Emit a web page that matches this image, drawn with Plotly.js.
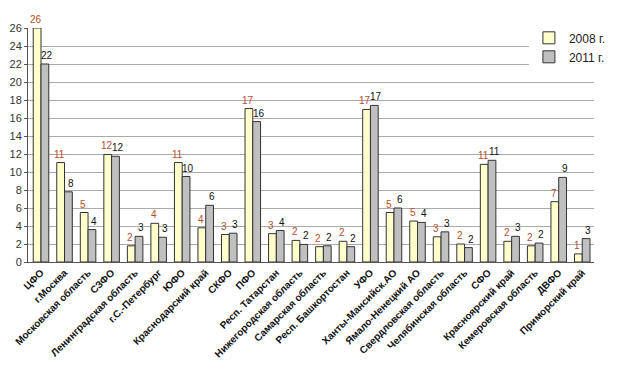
<!DOCTYPE html>
<html><head><meta charset="utf-8">
<script src="https://cdn.plot.ly/plotly-3.0.1.min.js"></script>
<style>html,body{margin:0;padding:0;background:#fff;}#chart{width:623px;height:379px;}</style>
</head><body><div id="chart"></div>
<script>
const categories = ["ЦФО","г.Москва","Московская область","СЗФО","Ленинградская область","г.С.-Петербург","ЮФО","Краснодарский край","СКФО","ПФО","Респ. Татарстан","Нижегородская область","Самарская область","Респ. Башкортостан","УФО","Ханты-Мансийск.АО","Ямало-Ненецкий АО","Свердловская область","Челябинская область","СФО","Красноярский край","Кемеровская область","ДВФО","Приморский край"];
const values2008 = [26,11.05,5.5,11.95,1.8,4.3,11.05,3.8,3.05,17.05,3.15,2.4,1.7,2.3,16.95,5.5,4.55,2.8,2.0,10.85,2.3,1.8,6.7,0.9];
const values2011 = [22,7.8,3.6,11.75,2.85,2.75,9.5,6.3,3.2,15.6,3.5,1.95,1.8,1.7,17.4,6.0,4.4,3.35,1.6,11.3,2.85,2.1,9.4,2.6];
const labels2008 = ["26","11","5","12","2","4","11","4","3","17","3","2","2","2","17","5","5","3","2","11","2","2","7","1"];
const labels2011 = ["22","8","4","12","3","3","10","6","3","16","4","2","2","2","17","6","4","3","2","11","3","2","9","3"];
const seriesNames = ["2008 г.","2011 г."];

const traces = [
  {type:'bar', name:seriesNames[0], x:categories, y:values2008,
   marker:{color:'#FFFFCC', line:{color:'#333', width:1}}},
  {type:'bar', name:seriesNames[1], x:categories, y:values2011,
   marker:{color:'#C0C0C0', line:{color:'#333', width:1}}}
];
const annotations = [];
categories.forEach((c,i)=>{
  annotations.push({x:c, y:values2008[i], text:labels2008[i], showarrow:false, yanchor:'bottom', xanchor:'center', xshift:-5, yshift:1,
    font:{family:'Liberation Sans, Arial', size:10, color:'#B5502B'}});
  annotations.push({x:c, y:values2011[i], text:labels2011[i], showarrow:false, yanchor:'bottom', xanchor:'center', xshift:6, yshift:1,
    font:{family:'Liberation Sans, Arial', size:10, color:'#111'}});
});
const layout = {
  width:623, height:379,
  margin:{l:28, r:13, t:28, b:117},
  paper_bgcolor:'#fff', plot_bgcolor:'#fff',
  barmode:'group', bargap:0.34, bargroupgap:0,
  font:{family:'Liberation Sans, Arial', color:'#222'},
  xaxis:{tickangle:-45, tickfont:{size:10, family:'Liberation Sans, Arial', weight:'bold', color:'#111'},
         showline:true, linecolor:'#555', linewidth:1, ticks:'', showgrid:false},
  yaxis:{range:[0,26], dtick:2, tickfont:{size:11, color:'#333'}, showgrid:true, gridcolor:'#AAAAAA', gridwidth:1,
         showline:true, linecolor:'#555', ticks:'outside', ticklen:3, tickcolor:'#555', zeroline:false},
  legend:{x:0.885, y:1.02, xanchor:'left', yanchor:'top', bgcolor:'#fff', font:{size:12, color:'#222'},
          itemwidth:30, tracegroupgap:4},
  annotations:annotations,
  showlegend:true
};
Plotly.newPlot('chart', traces, layout, {displayModeBar:false, staticPlot:true});
</script></body></html>
